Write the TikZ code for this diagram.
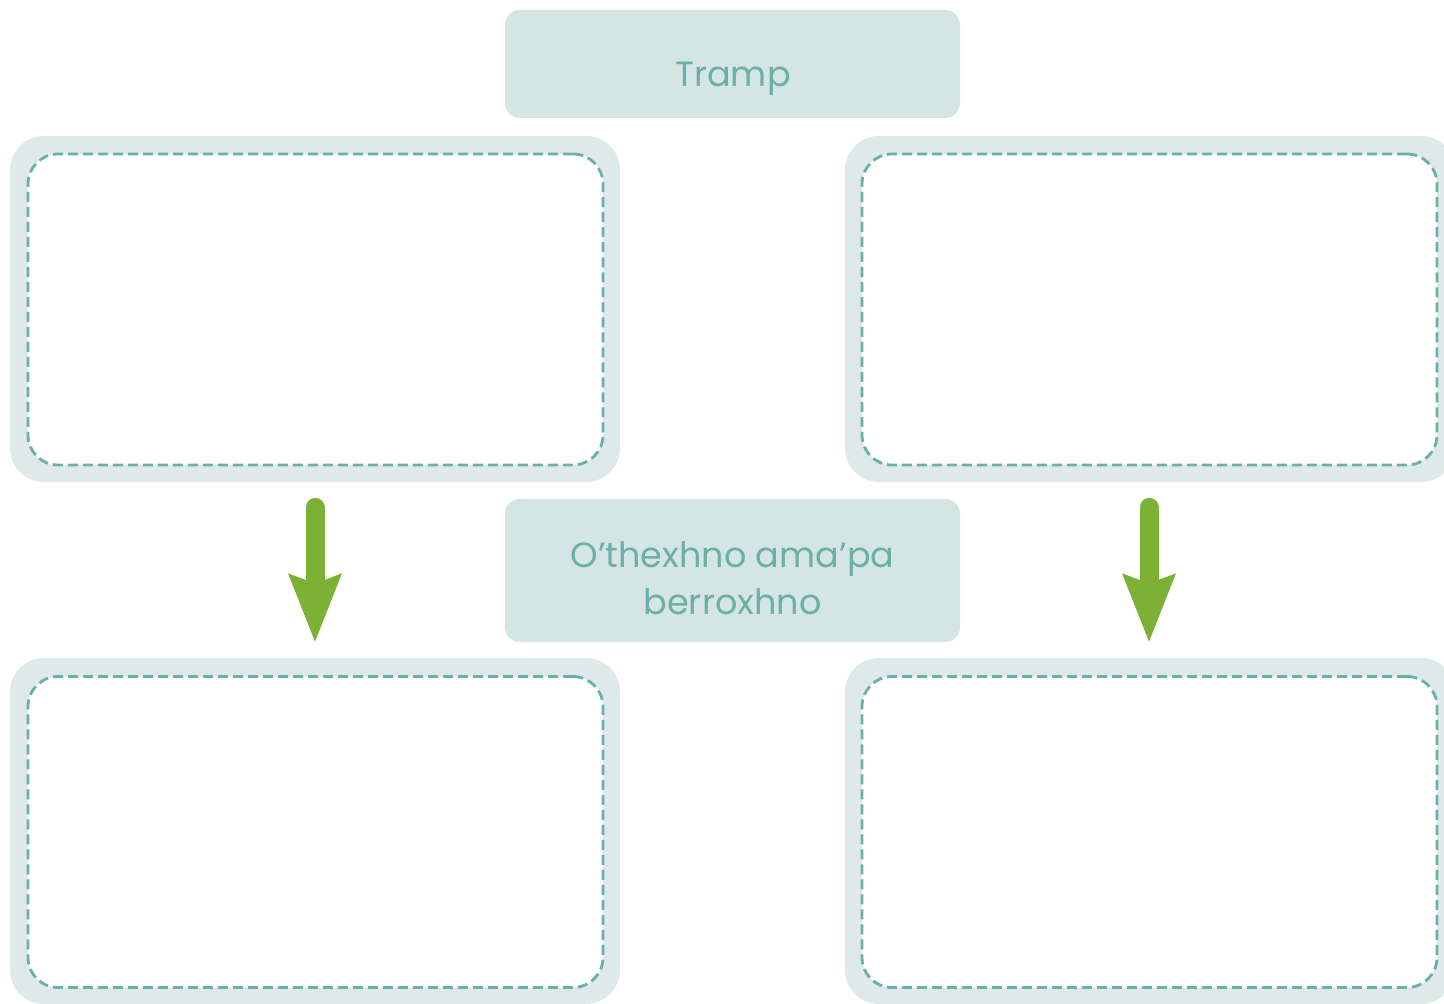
\documentclass[tikz,border=0pt]{standalone}
\usepackage{fontspec}
\setmainfont{Poppins}
\usetikzlibrary{arrows.meta}
\definecolor{labelfill}{HTML}{D5E5E4}
\definecolor{framefill}{HTML}{DEEAE9}
\definecolor{tealtext}{HTML}{6AB0A7}
\definecolor{arrowgreen}{HTML}{7CB135}
\tikzset{
  px/.style={x=0.5pt,y=-0.5pt},
  labelbox/.style={draw=none,fill=labelfill,rounded corners=7.5pt,
    minimum width=227.5pt,inner sep=0pt},
  labeltext/.style={text=tealtext,font=\fontsize{17.5}{23.5}\selectfont,
    align=center,inner sep=0pt,anchor=base},
  framebox/.style={draw=none,fill=framefill,rounded corners=17pt,
    minimum width=305pt,minimum height=173pt,inner sep=0pt},
  writebox/.style={draw=tealtext,fill=white,line width=1.4pt,
    dash pattern=on 5pt off 2.5pt,rounded corners=15pt,
    minimum width=287.5pt,minimum height=155.5pt,inner sep=0pt},
  flowarrow/.style={draw=arrowgreen,line width=9.5pt,line cap=round,
    -{Stealth[length=33.5pt,width=25pt,inset=4pt]},
    shorten <=12.5pt,shorten >=7.5pt},
}
\begin{document}
\begin{tikzpicture}[px]
\clip (0,0) rectangle (1444,1004);
\useasboundingbox (0,0) rectangle (1444,1004);
\fill[white] (0,0) rectangle (1444,1004);

% headings (base anchor sits on the last line's baseline)
\node[labelbox,minimum height=54pt] (title) at (732.5,64) {};
\node[labeltext] (titletext) at (733,87) {Tramp};
\node[labelbox,minimum height=71.5pt] (middle) at (732.5,570.5) {};
\node[labeltext] (middletext) at (732.5,614)
  {O’thexhno ama’pa\\berroxhno};

% outer frames
\node[framebox] (tl) at (315,309) {};
\node[framebox] (tr) at (1150,309) {};
\node[framebox] (bl) at (315,831) {};
\node[framebox] (br) at (1150,831) {};

% dashed writing areas
\node[writebox] (tlin) at (315.5,309.5) {};
\node[writebox] (trin) at (1149.5,309.5) {};
\node[writebox] (blin) at (315.5,832) {};
\node[writebox] (brin) at (1149.5,832) {};

% arrows between the frames
\draw[flowarrow] (tl.south) -- (bl.north);
\draw[flowarrow] (tr.south -| 1149,0) -- (br.north -| 1149,0);
\end{tikzpicture}
\end{document}
